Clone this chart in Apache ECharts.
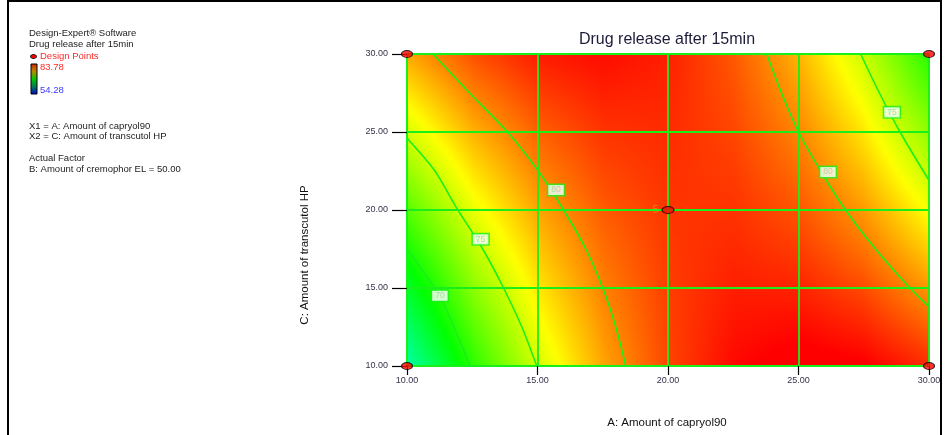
<!DOCTYPE html>
<html>
<head>
<meta charset="utf-8">
<script src="https://cdn.jsdelivr.net/npm/echarts@6/dist/echarts.min.js"></script>
<style>
  html, body { margin: 0; padding: 0; background: #fff; }
  #chart { width: 946px; height: 435px; }
</style>
</head>
<body>
<div id="chart"></div>
<script>
// Factor levels (A: capryol90 along x, C: transcutol HP along y)
const axisTicks = [10, 15, 20, 25, 30];
const gridX = [10, 12.5, 15, 17.5, 20, 22.5, 25, 27.5, 30];
const gridY = [10, 12.5, 15, 17.5, 20, 22.5, 25, 27.5, 30];

// Predicted drug release (%) after 15 min; one row per gridY level, columns follow gridX
const releaseY10   = [64.24, 70.20, 75.12, 78.98, 81.80, 83.56, 84.27, 83.94, 82.55];
const releaseY12_5 = [66.04, 71.57, 76.06, 79.50, 81.90, 83.23, 83.52, 82.76, 80.95];
const releaseY15   = [67.85, 72.96, 77.03, 80.04, 82.01, 82.93, 82.79, 81.61, 79.37];
const releaseY17_5 = [69.68, 74.37, 78.01, 80.60, 82.13, 82.62, 82.06, 80.44, 77.78];
const releaseY20   = [71.51, 75.78, 78.99, 81.15, 82.27, 82.33, 81.34, 79.31, 76.22];
const releaseY22_5 = [73.35, 77.19, 79.98, 81.72, 82.41, 82.05, 80.63, 78.17, 74.66];
const releaseY25   = [75.20, 78.62, 80.98, 82.29, 82.56, 81.77, 79.94, 77.05, 73.12];
const releaseY27_5 = [77.07, 80.06, 81.99, 82.88, 82.71, 81.50, 79.24, 75.92, 71.56];
const releaseY30   = [78.93, 81.49, 83.01, 83.47, 82.88, 81.24, 78.55, 74.82, 70.03];
const releaseRows = [releaseY10, releaseY12_5, releaseY15, releaseY17_5, releaseY20,
                     releaseY22_5, releaseY25, releaseY27_5, releaseY30];

// Response range shown on the colour key
const responseMin = 54.28;
const responseMax = 83.78;

// Contour lines of the response surface
const contour70  = [[10, 17.55], [10.6, 16.1], [11.26, 14.5], [11.85, 12.3], [12.42, 10]];
const contour75L = [[10, 24.6], [11.07, 22.5], [11.84, 20.3], [12.9, 17.5], [13.7, 15], [14.4, 12.5], [14.97, 10]];
const contour80L = [[11.0, 30], [12.4, 27.5], [13.85, 25], [15.03, 22.5], [16.0, 20], [16.85, 17.5], [17.5, 15], [18.0, 12.5], [18.38, 10]];
const contour80R = [[23.78, 30], [24.35, 27.5], [25.0, 25], [25.85, 22.5], [26.8, 20], [27.95, 17.5], [29.27, 15], [30, 13.8]];
const contour75R = [[27.38, 30], [28.1, 27.5], [28.89, 25], [30, 21.9]];

// Contour labels: [x, y, level]
const contourLabels = [[11.26, 14.5, 70], [12.82, 18.12, 75], [15.71, 21.28, 80], [26.13, 22.43, 80], [28.58, 26.26, 75]];

// Design points: [x, y, replicates]
const designPoints = [[10, 10, 1], [10, 30, 1], [30, 10, 1], [30, 30, 1], [20, 20, 5]];

// Colour scale: blue -> cyan -> green -> yellow -> red
const rampColors = [[0, 0, 255], [0, 255, 255], [0, 255, 0], [255, 255, 0], [255, 0, 0]];
function rampColor(v) {
  let f = (v - responseMin) / (responseMax - responseMin);
  f = Math.max(0, Math.min(1, f)) * (rampColors.length - 1);
  const i = Math.min(rampColors.length - 2, Math.floor(f));
  const t = f - i;
  const a = rampColors[i], b = rampColors[i + 1];
  const c = a.map((ai, k) => Math.round(ai + (b[k] - ai) * t));
  return 'rgb(' + c.join(',') + ')';
}

// Surface cells: corners of each grid cell and its four response values
const cells = [];
for (let j = 0; j < gridY.length - 1; j++) {
  for (let i = 0; i < gridX.length - 1; i++) {
    cells.push([gridX[i], gridY[j], gridX[i + 1], gridY[j + 1],
      releaseRows[j][i], releaseRows[j][i + 1], releaseRows[j + 1][i], releaseRows[j + 1][i + 1]]);
  }
}

// Shade one cell: thin horizontal strips, each with a left-to-right gradient
function renderCell(params, api) {
  const x0 = api.value(0), y0 = api.value(1), x1 = api.value(2), y1 = api.value(3);
  const v00 = api.value(4), v10 = api.value(5), v01 = api.value(6), v11 = api.value(7);
  const tl = api.coord([x0, y1]);
  const br = api.coord([x1, y0]);
  const w = br[0] - tl[0], h = br[1] - tl[1];
  const n = Math.max(1, Math.ceil(h));
  const steps = 12;
  const children = [];
  for (let s = 0; s < n; s++) {
    const t = 1 - (s + 0.5) / n;
    const vL = v00 * (1 - t) + v01 * t;
    const vR = v10 * (1 - t) + v11 * t;
    const stops = [];
    for (let k = 0; k <= steps; k++) {
      const u = k / steps;
      stops.push({ offset: u, color: rampColor(vL + (vR - vL) * u) });
    }
    children.push({
      type: 'rect',
      shape: { x: tl[0], y: tl[1] + s * h / n, width: w + 0.7, height: h / n + 0.7 },
      style: { fill: { type: 'linear', x: 0, y: 0, x2: 1, y2: 0, colorStops: stops } }
    });
  }
  return { type: 'group', children: children };
}

const lineGreen = '#19f019';

function contourSeries(data) {
  return {
    type: 'line', data: data, symbol: 'none', smooth: 0.3, z: 4, silent: true,
    lineStyle: { color: lineGreen, width: 1.6 }
  };
}

const chart = echarts.init(document.getElementById('chart'), null, { renderer: 'canvas' });

const legendFont = { fontFamily: 'Liberation Sans, Arial, sans-serif', fontSize: 9.5, fill: '#222' };

chart.setOption({
  animation: false,
  backgroundColor: '#ffffff',
  grid: { left: 407, right: 17, top: 54, bottom: 69, show: false },
  xAxis: {
    type: 'value', min: axisTicks[0], max: axisTicks[axisTicks.length - 1], interval: 5, z: 3,
    axisLine: { show: true, lineStyle: { color: lineGreen, width: 2 } },
    axisTick: { show: true, length: 9, lineStyle: { color: '#000', width: 1.2 } },
    axisLabel: {
      margin: 10, color: '#33334a', fontSize: 9,
      fontFamily: 'Liberation Sans, Arial, sans-serif',
      formatter: v => v.toFixed(2)
    },
    splitLine: { show: true, lineStyle: { color: lineGreen, width: 1.8 } }
  },
  yAxis: {
    type: 'value', min: axisTicks[0], max: axisTicks[axisTicks.length - 1], interval: 5, z: 3,
    axisLine: { show: true, lineStyle: { color: lineGreen, width: 2 } },
    axisTick: { show: true, length: 15, lineStyle: { color: '#000', width: 1.2 } },
    axisLabel: {
      margin: 19, color: '#33334a', fontSize: 9,
      fontFamily: 'Liberation Sans, Arial, sans-serif',
      formatter: v => v.toFixed(2)
    },
    splitLine: { show: true, lineStyle: { color: lineGreen, width: 1.8 } }
  },
  series: [
    {
      type: 'custom', renderItem: renderCell, data: cells, z: 1, silent: true,
      encode: { x: [0, 2], y: [1, 3] }
    },
    contourSeries(contour70),
    contourSeries(contour75L),
    contourSeries(contour80L),
    contourSeries(contour80R),
    contourSeries(contour75R),
    {
      type: 'scatter', z: 6, silent: true, symbolSize: 1,
      itemStyle: { color: 'rgba(0,0,0,0)' },
      data: contourLabels.map(d => ({ value: [d[0], d[1]], level: d[2] })),
      label: {
        show: true, position: 'inside',
        formatter: p => String(p.data.level),
        fontSize: 8.5, color: '#9ccf9c',
        fontFamily: 'Liberation Sans, Arial, sans-serif',
        backgroundColor: '#ffffff', borderColor: lineGreen, borderWidth: 1.5,
        padding: [1, 3, 0, 3]
      }
    },
    {
      type: 'scatter', z: 8, silent: true, clip: false,
      symbol: 'circle',
      symbolSize: d => d[2] > 1 ? [12, 7] : [11, 7],
      itemStyle: { color: '#ff0000', borderColor: '#000', borderWidth: 1 },
      data: designPoints,
      label: {
        show: true, position: 'left', distance: 3,
        formatter: p => p.data[2] > 1 ? String(p.data[2]) : '',
        color: '#d99a1c', fontSize: 10, fontFamily: 'Liberation Sans, Arial, sans-serif'
      }
    }
  ],
  graphic: [
    { type: 'rect', shape: { x: 8, y: 1, width: 933, height: 445 }, style: { fill: 'none', stroke: '#000', lineWidth: 2 }, z: 100 },
    { type: 'text', x: 667, y: 40, style: { text: 'Drug release after 15min', fontFamily: 'Liberation Sans, Arial, sans-serif', fontSize: 16, fill: '#1c1c3a', align: 'center', verticalAlign: 'middle' } },
    { type: 'text', x: 667, y: 423, style: { text: 'A: Amount of capryol90', fontFamily: 'Liberation Sans, Arial, sans-serif', fontSize: 11.5, fill: '#111', align: 'center', verticalAlign: 'middle' } },
    { type: 'text', x: 305, y: 255, rotation: Math.PI / 2, style: { text: 'C: Amount of transcutol HP', fontFamily: 'Liberation Sans, Arial, sans-serif', fontSize: 11.5, fill: '#111', align: 'center', verticalAlign: 'middle' } },
    { type: 'text', x: 29, y: 33, style: Object.assign({ text: 'Design-Expert® Software', verticalAlign: 'middle' }, legendFont) },
    { type: 'text', x: 29, y: 44, style: Object.assign({ text: 'Drug release after 15min', verticalAlign: 'middle' }, legendFont) },
    { type: 'ellipse', shape: { cx: 33.5, cy: 56.5, rx: 3, ry: 2 }, style: { fill: '#ff0000', stroke: '#000', lineWidth: 1 } },
    { type: 'text', x: 40, y: 56, style: Object.assign({}, legendFont, { text: 'Design Points', fill: '#ff2a2a', verticalAlign: 'middle' }) },
    { type: 'rect', shape: { x: 31, y: 64, width: 6, height: 30 }, style: { stroke: '#000', lineWidth: 1, fill: { type: 'linear', x: 0, y: 0, x2: 0, y2: 1, colorStops: [
      { offset: 0, color: '#cc2200' }, { offset: 0.25, color: '#bb8800' }, { offset: 0.5, color: '#00c800' }, { offset: 0.75, color: '#007a55' }, { offset: 1, color: '#0000cc' } ] } } },
    { type: 'text', x: 40, y: 67, style: Object.assign({}, legendFont, { text: responseMax.toFixed(2), fill: '#ff2a2a', verticalAlign: 'middle' }) },
    { type: 'text', x: 40, y: 90, style: Object.assign({}, legendFont, { text: responseMin.toFixed(2), fill: '#3a3aff', verticalAlign: 'middle' }) },
    { type: 'text', x: 29, y: 126, style: Object.assign({ text: 'X1 = A: Amount of capryol90', verticalAlign: 'middle' }, legendFont) },
    { type: 'text', x: 29, y: 136, style: Object.assign({ text: 'X2 = C: Amount of transcutol HP', verticalAlign: 'middle' }, legendFont) },
    { type: 'text', x: 29, y: 158, style: Object.assign({ text: 'Actual Factor', verticalAlign: 'middle' }, legendFont) },
    { type: 'text', x: 29, y: 169, style: Object.assign({ text: 'B: Amount of cremophor EL = 50.00', verticalAlign: 'middle' }, legendFont) }
  ]
});
</script>
</body>
</html>
